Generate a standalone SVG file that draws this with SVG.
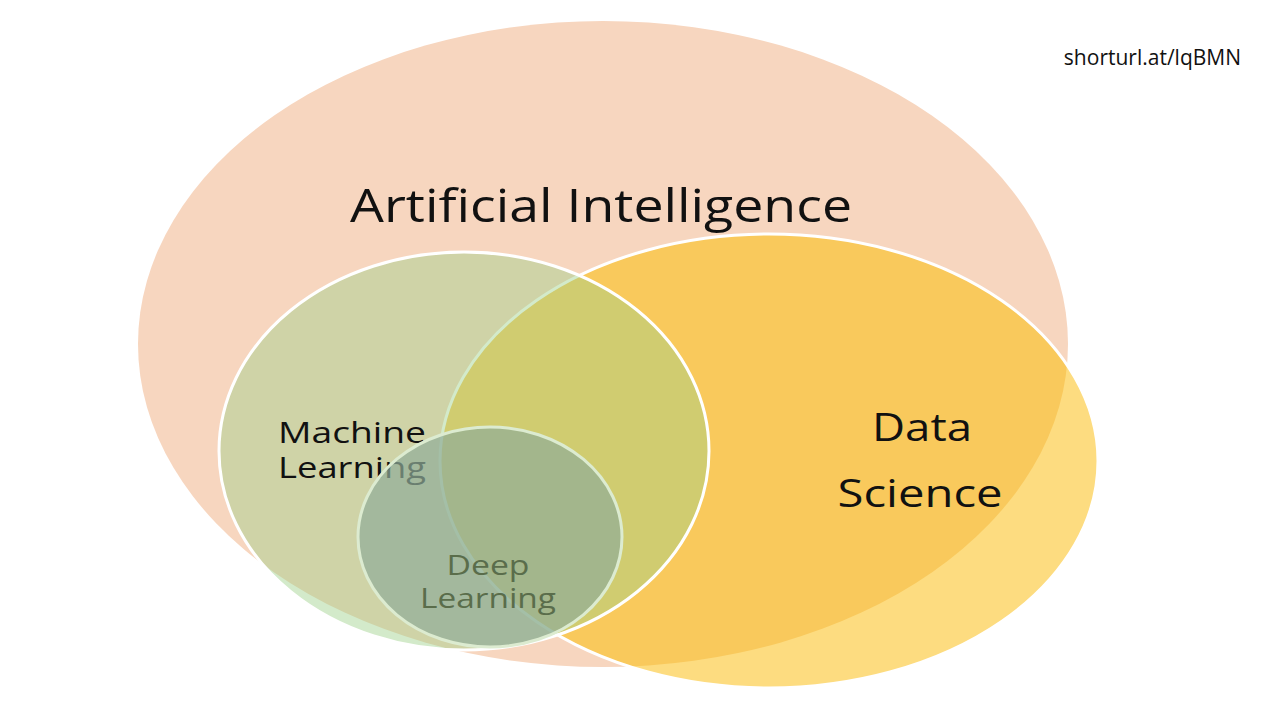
<svg xmlns="http://www.w3.org/2000/svg" width="1280" height="720" viewBox="0 0 1280 720">
  <style>
    .lbl { font-family: "Open Sans", "Noto Sans", "Liberation Sans", sans-serif; fill: #111111; text-anchor: middle; }
    .dl { fill: #5A6D4B; }
  </style>
  <defs>
    <clipPath id="aiClip">
      <ellipse cx="603" cy="344" rx="465" ry="323"/>
    </clipPath>
  </defs>
  <rect x="0" y="0" width="1280" height="720" fill="#FFFFFF"/>

  <g id="ai">
    <ellipse cx="603" cy="344" rx="465" ry="323" fill="#F7D6BF"/>
    <text class="lbl" x="601" y="222" font-size="45" textLength="502" lengthAdjust="spacingAndGlyphs">Artificial Intelligence</text>
  </g>

  <g id="ds">
    <ellipse cx="769" cy="461" rx="329" ry="227" fill="#FDDC80"/>
    <ellipse cx="769" cy="461" rx="329" ry="227" fill="#F9C95C" clip-path="url(#aiClip)"/>
    <ellipse cx="769" cy="461" rx="329" ry="227" fill="none" stroke="#FFFFFF" stroke-width="3"/>
    <text class="lbl" x="922" y="441" font-size="39" textLength="100" lengthAdjust="spacingAndGlyphs">Data</text>
    <text class="lbl" x="920" y="507" font-size="39" textLength="165" lengthAdjust="spacingAndGlyphs">Science</text>
  </g>

  <g id="ml">
    <ellipse cx="464" cy="451" rx="245" ry="199" fill="#9ED08A" fill-opacity="0.45" stroke="#FFFFFF" stroke-width="3"/>
    <text class="lbl" x="352" y="443" font-size="30" textLength="148" lengthAdjust="spacingAndGlyphs">Machine</text>
    <text class="lbl" x="352" y="478" font-size="30" textLength="148" lengthAdjust="spacingAndGlyphs">Learning</text>
  </g>

  <g id="dl">
    <ellipse cx="490" cy="537" rx="132" ry="110" fill="#90AD98" fill-opacity="0.7" stroke="#DCEBD0" stroke-width="3"/>
    <text class="lbl dl" x="488" y="575" font-size="27" textLength="83" lengthAdjust="spacingAndGlyphs">Deep</text>
    <text class="lbl dl" x="488" y="608" font-size="27" textLength="136" lengthAdjust="spacingAndGlyphs">Learning</text>
  </g>

  <g id="note">
    <text x="1241" y="65" font-size="21" font-family="Open Sans, Noto Sans, Liberation Sans, sans-serif" fill="#111111" text-anchor="end">shorturl.at/lqBMN</text>
  </g>

  <g id="connectors"></g>
</svg>
